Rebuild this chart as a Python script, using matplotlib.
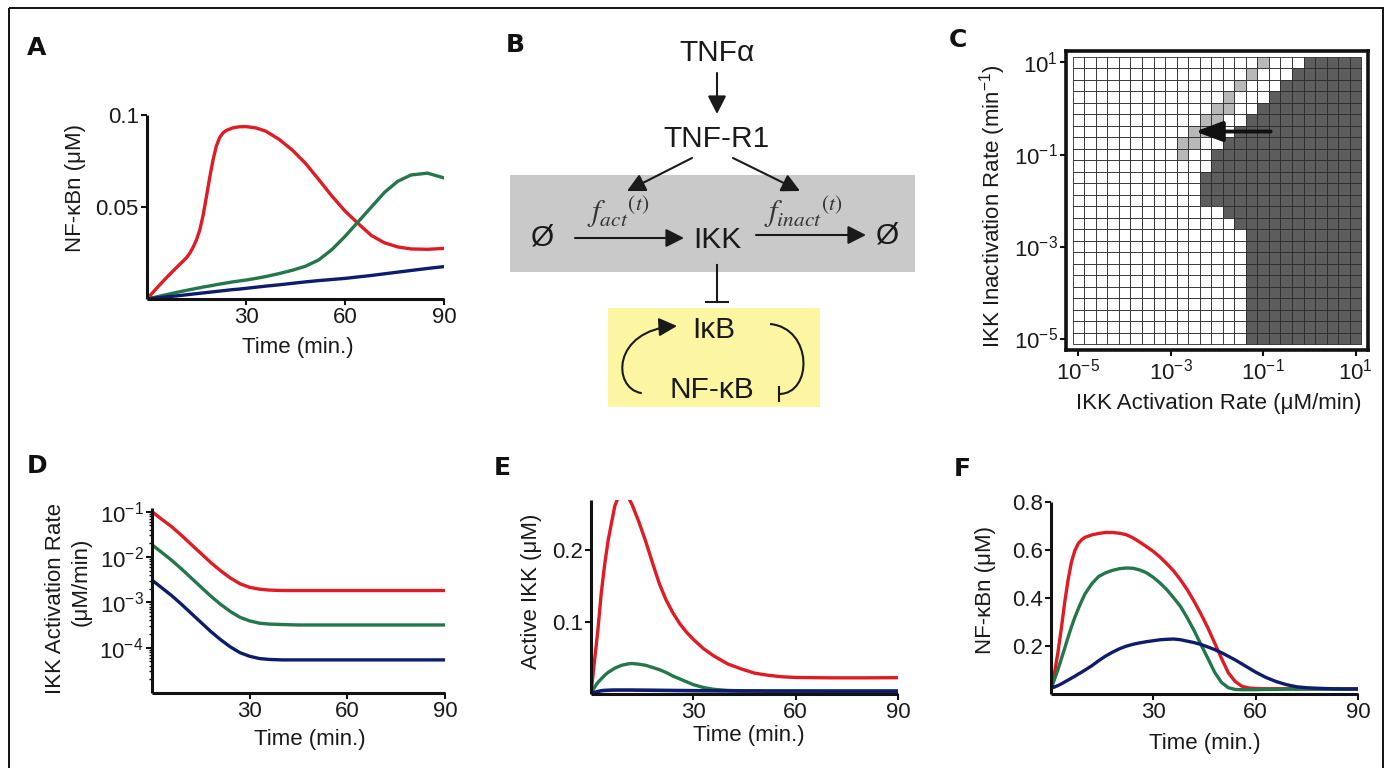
import numpy as np
import matplotlib
matplotlib.use("Agg")
import matplotlib.pyplot as plt
from matplotlib.patches import Rectangle, FancyArrowPatch, PathPatch
from matplotlib.path import Path
from matplotlib.colors import ListedColormap
from matplotlib.ticker import LogLocator, NullFormatter

plt.rcParams['font.family'] = ['Liberation Sans', 'DejaVu Sans']
plt.rcParams['mathtext.fontset'] = 'custom'
plt.rcParams['mathtext.rm'] = 'Liberation Sans'
plt.rcParams['mathtext.it'] = 'Liberation Sans:italic'
plt.rcParams['mathtext.bf'] = 'Liberation Sans:bold'

# ---------------- data ----------------
RED, GREEN, NAVY = '#e01b24', '#23774a', '#0d1c6b'

# Panel A: nuclear NF-kB (uM) vs time (min)
tA = [0, 3, 6, 9, 12, 13, 14, 15, 16, 17, 18, 19, 20, 21, 22, 23, 24, 26, 28, 30, 33, 36,
      40, 44, 48, 52, 56, 60, 64, 68, 72, 76, 80, 85, 90]
a_red = [0, 0.006, 0.0118, 0.0172, 0.0225, 0.025, 0.0282, 0.0322, 0.0375, 0.0455, 0.0555,
         0.066, 0.0755, 0.0830, 0.0877, 0.0902, 0.0916, 0.0930, 0.0936, 0.0937, 0.0930,
         0.0912, 0.0868, 0.0810, 0.0738, 0.0650, 0.0560, 0.0478, 0.0410, 0.0345, 0.0305,
         0.0283, 0.0272, 0.0270, 0.0275]
a_green = [0, 0.0012, 0.0024, 0.0036, 0.0047, 0.0051, 0.0054, 0.0058, 0.0061, 0.0065,
           0.0068, 0.0071, 0.0074, 0.0078, 0.0081, 0.0084, 0.0087, 0.0093, 0.0098, 0.0103,
           0.0112, 0.0122, 0.0138, 0.0156, 0.0178, 0.0212, 0.0268, 0.0340, 0.0420, 0.0500,
           0.0580, 0.0640, 0.0674, 0.0684, 0.0658]
a_blue = [0, 0.0006, 0.0012, 0.0017, 0.0023, 0.0025, 0.0027, 0.0029, 0.0031, 0.0033,
          0.0035, 0.0037, 0.0039, 0.0041, 0.0043, 0.0045, 0.0047, 0.0051, 0.0054, 0.0058,
          0.0064, 0.0070, 0.0077, 0.0085, 0.0093, 0.0100, 0.0106, 0.0112, 0.0120, 0.0128,
          0.0137, 0.0146, 0.0155, 0.0166, 0.0176]

# Panel C: regime map, rows top (inact 10^1) -> bottom (10^-5); 0 white, 1 light, 2 dark
c_log_act = [-5.0, -4.75, -4.5, -4.25, -4.0, -3.75, -3.5, -3.25, -3.0, -2.75, -2.5, -2.25,
             -2.0, -1.75, -1.5, -1.25, -1.0, -0.75, -0.5, -0.25, 0.0, 0.25, 0.5, 0.75, 1.0]
c_log_inact = [1.0, 0.75, 0.5, 0.25, 0.0, -0.25, -0.5, -0.75, -1.0, -1.25, -1.5, -1.75,
               -2.0, -2.25, -2.5, -2.75, -3.0, -3.25, -3.5, -3.75, -4.0, -4.25, -4.5,
               -4.75, -5.0]
c_regime_rows = [
    "0000000000000000100022222",
    "0000000000000001000222222",
    "0000000000000010002222222",
    "0000000000000100022222222",
    "0000000000001100222222222",
    "0000000000011002222222222",
    "0000000000110022222222222",
    "0000000001100222222222222",
    "0000000001002222222222222",
    "0000000000002222222222222",
    "0000000000022222222222222",
    "0000000000022222222222222",
    "0000000000022222222222222",
    "0000000000000222222222222",
    "0000000000000022222222222",
    "0000000000000002222222222",
    "0000000000000002222222222",
    "0000000000000002222222222",
    "0000000000000002222222222",
    "0000000000000002222222222",
    "0000000000000002222222222",
    "0000000000000002222222222",
    "0000000000000002222222222",
    "0000000000000002222222222",
    "0000000000000002222222222",
]
c_arrow_tail = (0.145, 0.316)
c_arrow_tip = (0.0034, 0.316)

# Panel D: IKK activation rate (log10 of uM/min)
tD = [0, 3, 6, 9, 12, 15, 18, 21, 24, 27, 30, 33, 36, 40, 45, 50, 60, 70, 80, 90]
d_red_log = [-1.00, -1.17, -1.33, -1.52, -1.72, -1.92, -2.12, -2.30, -2.46, -2.59, -2.67,
             -2.71, -2.73, -2.74, -2.74, -2.74, -2.74, -2.74, -2.74, -2.74]
d_green_log = [-1.73, -1.90, -2.07, -2.26, -2.46, -2.66, -2.86, -3.04, -3.20, -3.33, -3.41,
               -3.46, -3.48, -3.49, -3.50, -3.50, -3.50, -3.50, -3.50, -3.50]
d_blue_log = [-2.51, -2.68, -2.85, -3.04, -3.24, -3.44, -3.64, -3.82, -3.98, -4.11, -4.19,
              -4.24, -4.26, -4.27, -4.27, -4.27, -4.27, -4.27, -4.27, -4.27]

# Panel E: active IKK (uM)
tE = [0, 1, 2, 3, 4, 5, 6, 7, 8, 9, 10, 11, 12, 13, 14, 16, 18, 20, 22, 24, 26, 28, 30,
      33, 36, 40, 44, 48, 52, 56, 60, 70, 80, 90]
e_red = [0, 0.045, 0.088, 0.140, 0.180, 0.213, 0.238, 0.262, 0.274, 0.279, 0.278, 0.273,
         0.264, 0.252, 0.240, 0.213, 0.183, 0.154, 0.131, 0.113, 0.098, 0.086, 0.076,
         0.063, 0.053, 0.042, 0.035, 0.029, 0.026, 0.024, 0.023, 0.0225, 0.0225, 0.0227]
e_green = [0, 0.009, 0.016, 0.021, 0.026, 0.030, 0.033, 0.036, 0.038, 0.040, 0.041, 0.042,
           0.0425, 0.042, 0.0415, 0.040, 0.037, 0.034, 0.030, 0.025, 0.021, 0.017, 0.013,
           0.009, 0.0065, 0.005, 0.0045, 0.0042, 0.004, 0.004, 0.004, 0.004, 0.004, 0.004]
e_blue = [0, 0.002, 0.0035, 0.0045, 0.005, 0.0052, 0.0054, 0.0055, 0.0055, 0.0055, 0.0055,
          0.0055, 0.0055, 0.0054, 0.0054, 0.0053, 0.0052, 0.0051, 0.005, 0.0049, 0.0048,
          0.0047, 0.0046, 0.0045, 0.0044, 0.0043, 0.0042, 0.0042, 0.0041, 0.0041, 0.0041,
          0.004, 0.004, 0.004]

# Panel F: nuclear NF-kB (uM)
tF = [0, 1, 2, 3, 4, 5, 6, 7, 8, 9, 10, 12, 14, 16, 18, 20, 22, 24, 26, 28, 30, 32, 34,
      36, 38, 40, 42, 44, 46, 48, 50, 52, 54, 56, 58, 60, 63, 66, 69, 72, 75, 78, 82, 86,
      90]
f_red = [0.02, 0.085, 0.17, 0.27, 0.38, 0.475, 0.55, 0.598, 0.627, 0.643, 0.653, 0.663,
         0.669, 0.673, 0.673, 0.670, 0.664, 0.651, 0.633, 0.614, 0.594, 0.570, 0.542,
         0.512, 0.475, 0.433, 0.385, 0.332, 0.275, 0.212, 0.148, 0.088, 0.052, 0.032,
         0.025, 0.023, 0.022, 0.022, 0.022, 0.022, 0.022, 0.022, 0.022, 0.022, 0.022]
f_green = [0.02, 0.06, 0.10, 0.145, 0.19, 0.236, 0.28, 0.32, 0.355, 0.388, 0.418, 0.46,
           0.49, 0.505, 0.515, 0.522, 0.525, 0.524, 0.517, 0.505, 0.486, 0.462, 0.434,
           0.400, 0.364, 0.316, 0.263, 0.205, 0.148, 0.090, 0.048, 0.026, 0.019, 0.018,
           0.018, 0.018, 0.019, 0.019, 0.02, 0.02, 0.02, 0.02, 0.02, 0.02, 0.02]
f_blue = [0.024, 0.029, 0.035, 0.042, 0.050, 0.058, 0.066, 0.074, 0.083, 0.091, 0.100,
          0.118, 0.139, 0.158, 0.174, 0.188, 0.199, 0.207, 0.213, 0.218, 0.222, 0.226,
          0.228, 0.229, 0.226, 0.220, 0.214, 0.206, 0.196, 0.185, 0.172, 0.157, 0.142,
          0.125, 0.108, 0.091, 0.069, 0.052, 0.039, 0.030, 0.026, 0.024, 0.022, 0.021,
          0.021]

time_ticks = [30, 60, 90]
time_ticklabels = ['30', '60', '90']

# ---------------- figure ----------------
W, H = 1387, 768
fig = plt.figure(figsize=(W / 100, H / 100), dpi=100)
TXT = '#1a1a1a'
FS = 16


def add_ax(box, **kw):
    l, t, r, b = box
    return fig.add_axes([l / W, 1 - b / H, (r - l) / W, (b - t) / H], **kw)


def frac(box, px, py):
    l, t, r, b = box
    return ((px - l) / (r - l), (b - py) / (b - t))


def style_line_axes(ax):
    for s in ['top', 'right']:
        ax.spines[s].set_visible(False)
    for s in ['left', 'bottom']:
        ax.spines[s].set_linewidth(2.2)
        ax.spines[s].set_color('#111111')
        ax.spines[s].set_capstyle('butt')
    ax.tick_params(direction='out', length=4, width=1.5, labelsize=FS, pad=2,
                   colors='#111111', labelcolor=TXT)


def place_labels(ax, box, xlabel, xpos, ylabel, ypos):
    if xlabel:
        ax.set_xlabel(xlabel, fontsize=FS, color=TXT)
        ax.xaxis.set_label_coords(*frac(box, *xpos))
        ax.xaxis.label.set_verticalalignment('center')
    if ylabel:
        ax.set_ylabel(ylabel, fontsize=FS, color=TXT)
        ax.yaxis.set_label_coords(*frac(box, *ypos))
        ax.yaxis.label.set_verticalalignment('center')


# overlay axes in pixel coordinates (diagram, border, panel letters)
ax0 = fig.add_axes([0, 0, 1, 1], zorder=-1)
ax0.set_xlim(0, W)
ax0.set_ylim(H, 0)
ax0.axis('off')
ax0.add_patch(Rectangle((9, 8), 1374, 800, fill=False, lw=1.4, edgecolor='#111111',
                        clip_on=False))

for letter, (px, py) in {'A': (37, 48), 'B': (515, 45), 'C': (958, 40),
                         'D': (37, 466), 'E': (502, 468), 'F': (962, 469)}.items():
    ax0.text(px, py, letter, fontsize=18, fontweight='bold', family='DejaVu Sans',
             ha='center', va='center', color='#111111')

# ---- Panel A ----
A_BOX = (147, 115, 444, 299)
axA = add_ax(A_BOX)
axA.plot(tA, a_red, color=RED, lw=2.4)
axA.plot(tA, a_green, color=GREEN, lw=2.4)
axA.plot(tA, a_blue, color=NAVY, lw=2.4)
axA.set_xlim(0, 90)
axA.set_ylim(0, 0.1)
axA.set_xticks(time_ticks, time_ticklabels)
axA.set_yticks([0.05, 0.1], ['0.05', '0.1'])
style_line_axes(axA)
place_labels(axA, A_BOX, 'Time (min.)', (298, 347), 'NF-κBn (μM)', (76, 188))

# ---- Panel B (diagram) ----
ax0.add_patch(Rectangle((510, 175), 405, 97, facecolor='#c9c9c9', edgecolor='none'))
ax0.add_patch(Rectangle((608, 308), 212, 99, facecolor='#fcf5a2', edgecolor='none'))


def arrow(x0, y0, x1, y1):
    ax0.annotate('', xy=(x1, y1), xytext=(x0, y0),
                 arrowprops=dict(arrowstyle='-|>,head_length=0.55,head_width=0.28',
                                 mutation_scale=20, lw=1.5, color='#1a1a1a',
                                 shrinkA=0, shrinkB=0))


BFS = 21.5
ax0.text(717, 53, 'TNFα', fontsize=BFS, ha='center', va='center', color=TXT)
arrow(717, 73, 717, 114)
ax0.text(717, 139, 'TNF-R1', fontsize=BFS, ha='center', va='center', color=TXT)
arrow(692, 158, 627, 191)
arrow(733, 158, 800, 191)
ax0.text(543, 237, 'Ø', fontsize=BFS, ha='center', va='center', color=TXT)
ax0.text(888, 236, 'Ø', fontsize=BFS, ha='center', va='center', color=TXT)
ax0.text(717, 240, 'IKK', fontsize=BFS, ha='center', va='center', color=TXT)
arrow(575, 238, 684, 238)
arrow(756, 235, 866, 235)
ax0.text(618, 212, r'$f_{act}{}^{(t)}$', fontsize=22, ha='center', va='center',
         color='#333333', math_fontfamily='stix')
ax0.text(803, 212, r'$f_{inact}{}^{(t)}$', fontsize=22, ha='center', va='center',
         color='#333333', math_fontfamily='stix')
# inhibition IKK -| IkB
ax0.plot([717, 717], [265, 302], color='#1a1a1a', lw=1.5)
ax0.plot([706, 728], [302, 302], color='#1a1a1a', lw=1.5)
ax0.text(714, 330, 'IκB', fontsize=BFS, ha='center', va='center', color=TXT)
ax0.text(712, 390, 'NF-κB', fontsize=BFS, ha='center', va='center', color=TXT)
left_arc = Path([(641, 393), (612, 388), (612, 330), (677, 326)],
                [Path.MOVETO, Path.CURVE4, Path.CURVE4, Path.CURVE4])
ax0.add_patch(FancyArrowPatch(path=left_arc,
                              arrowstyle='-|>,head_length=0.55,head_width=0.28',
                              mutation_scale=20, lw=1.5, color='#1a1a1a'))
right_arc = Path([(770, 324), (813, 328), (813, 394), (779, 394)],
                 [Path.MOVETO, Path.CURVE4, Path.CURVE4, Path.CURVE4])
ax0.add_patch(PathPatch(right_arc, fill=False, lw=1.5, edgecolor='#1a1a1a'))
ax0.plot([779, 779], [387, 401], color='#1a1a1a', lw=1.5)

# ---- Panel C ----
C_BOX = (1066, 51, 1368, 350)
axC = add_ax(C_BOX)
Z = np.array([[int(ch) for ch in row] for row in c_regime_rows])
lx = np.array(c_log_act)
ly = np.array(c_log_inact)
sx = lx[1] - lx[0]
sy = ly[1] - ly[0]
x_edges = 10.0 ** np.concatenate([lx - sx / 2, [lx[-1] + sx / 2]])
y_edges = 10.0 ** np.concatenate([ly - sy / 2, [ly[-1] + sy / 2]])
cmap = ListedColormap(['#ffffff', '#b8b8b8', '#5d5d5d'])
axC.pcolormesh(x_edges, y_edges, Z, cmap=cmap, vmin=-0.5, vmax=2.5,
               edgecolors='#2a2a2a', linewidth=0.6, antialiased=True)
axC.set_xscale('log')
axC.set_yscale('log')
axC.set_xlim(10 ** -5.27, 10 ** 1.27)
axC.set_ylim(10 ** -5.25, 10 ** 1.25)
dec_ticks = [1e-5, 1e-3, 1e-1, 1e1]
dec_labels = [r'$10^{-5}$', r'$10^{-3}$', r'$10^{-1}$', r'$10^{1}$']
axC.set_xticks(dec_ticks, dec_labels)
axC.set_yticks(dec_ticks, dec_labels)
axC.xaxis.set_minor_locator(plt.NullLocator())
axC.yaxis.set_minor_locator(plt.NullLocator())
for s in axC.spines.values():
    s.set_linewidth(2.6)
    s.set_color('#111111')
axC.tick_params(direction='out', length=4, width=1.5, labelsize=FS, pad=2,
                colors='#111111', labelcolor=TXT)
axC.annotate('', xy=c_arrow_tip, xytext=c_arrow_tail,
             arrowprops=dict(arrowstyle='-|>,head_length=0.75,head_width=0.28',
                             mutation_scale=22, lw=2.8, color='#111111',
                             shrinkA=0, shrinkB=0))
place_labels(axC, C_BOX, 'IKK Activation Rate (μM/min)', (1219, 403),
             r'IKK Inactivation Rate (min$^{-1}$)', (993, 206))

# ---- Panel D ----
D_BOX = (152, 508, 445, 693)
axD = add_ax(D_BOX)
axD.plot(tD, 10.0 ** np.array(d_red_log), color=RED, lw=2.4)
axD.plot(tD, 10.0 ** np.array(d_green_log), color=GREEN, lw=2.4)
axD.plot(tD, 10.0 ** np.array(d_blue_log), color=NAVY, lw=2.4)
axD.set_yscale('log')
axD.set_xlim(0, 90)
axD.set_ylim(1e-5, 10 ** -0.92)
axD.set_xticks(time_ticks, time_ticklabels)
axD.set_yticks([1e-4, 1e-3, 1e-2, 1e-1],
               [r'$10^{-4}$', r'$10^{-3}$', r'$10^{-2}$', r'$10^{-1}$'])
axD.yaxis.set_minor_locator(LogLocator(base=10, subs=range(2, 10), numticks=20))
axD.yaxis.set_minor_formatter(NullFormatter())
style_line_axes(axD)
axD.tick_params(axis='y', which='minor', direction='out', length=2.5, width=1.0)
place_labels(axD, D_BOX, 'Time (min.)', (310, 740), 'IKK Activation Rate', (56, 599))
axD.text(*frac(D_BOX, 81, 582), '(μM/min)', transform=axD.transAxes, rotation=90,
         ha='center', va='center', fontsize=FS, color=TXT)

# ---- Panel E ----
E_BOX = (591, 500, 898, 694)
axE = add_ax(E_BOX)
axE.plot(tE, e_red, color=RED, lw=2.4)
axE.plot(tE, e_green, color=GREEN, lw=2.4)
axE.plot(tE, e_blue, color=NAVY, lw=2.6)
axE.set_xlim(0, 90)
axE.set_ylim(0, 0.27)
axE.set_xticks(time_ticks, time_ticklabels)
axE.set_yticks([0.1, 0.2], ['0.1', '0.2'])
style_line_axes(axE)
place_labels(axE, E_BOX, 'Time (min.)', (749, 736), 'Active IKK (μM)', (532, 591))

# ---- Panel F ----
F_BOX = (1051, 502, 1358, 694)
axF = add_ax(F_BOX)
axF.plot(tF, f_red, color=RED, lw=2.4)
axF.plot(tF, f_green, color=GREEN, lw=2.4)
axF.plot(tF, f_blue, color=NAVY, lw=2.4)
axF.set_xlim(0, 90)
axF.set_ylim(0, 0.8)
axF.set_xticks(time_ticks, time_ticklabels)
axF.set_yticks([0.2, 0.4, 0.6, 0.8], ['0.2', '0.4', '0.6', '0.8'])
style_line_axes(axF)
place_labels(axF, F_BOX, 'Time (min.)', (1205, 744), 'NF-κBn (μM)', (986, 590))

fig.savefig('out.png', dpi=100)
